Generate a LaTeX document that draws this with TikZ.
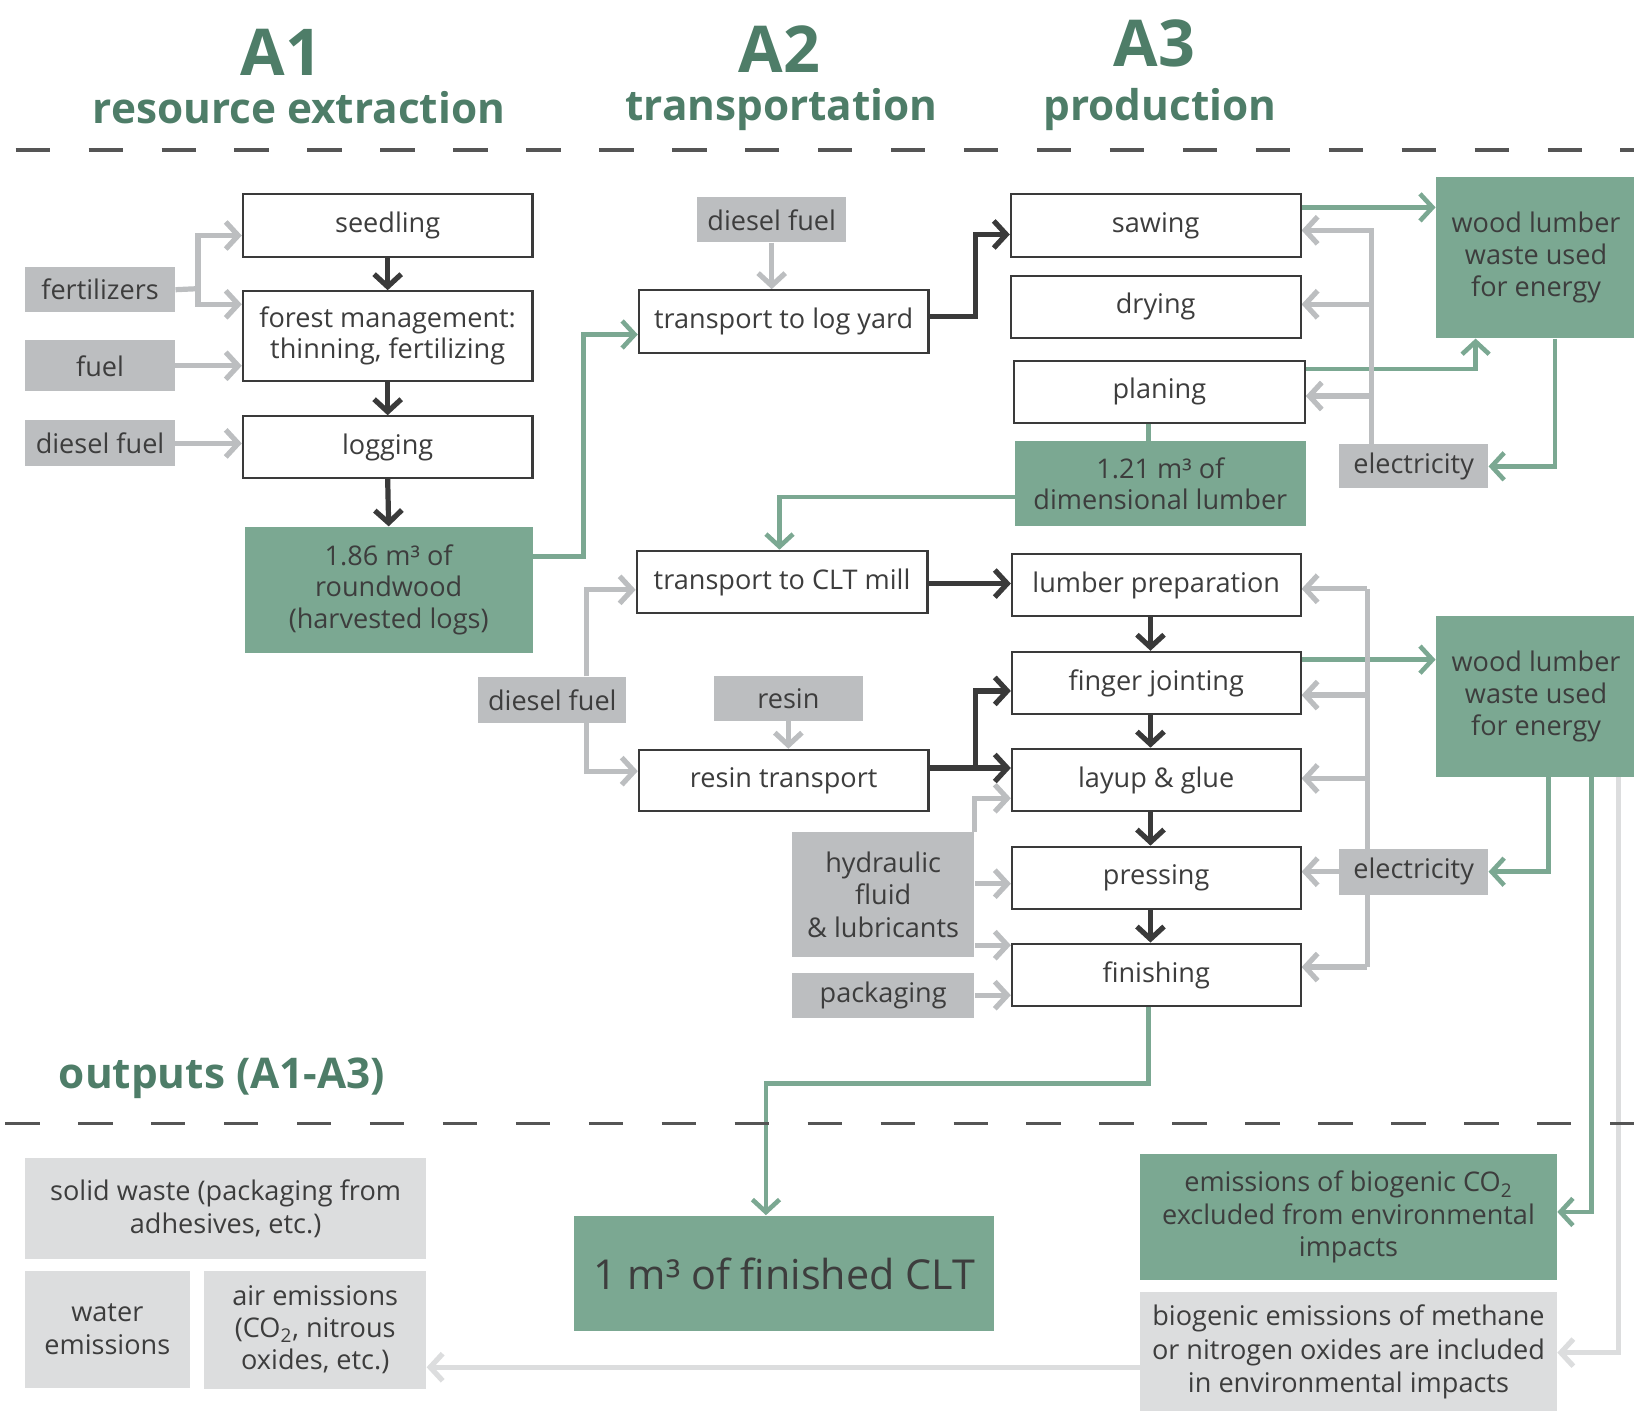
\documentclass[tikz,border=0pt]{standalone}
\usepackage{fontspec}
\setmainfont{Open Sans}
\usetikzlibrary{arrows.meta}
\definecolor{hdrgreen}{HTML}{4E7D68}
\definecolor{boxgreen}{HTML}{7BA892}
\definecolor{boxgray}{HTML}{BCBEC0}
\definecolor{lightbox}{HTML}{DCDDDE}
\definecolor{dkline}{HTML}{3A3A3A}
\definecolor{txt}{HTML}{3D3D3D}
\definecolor{dashcol}{HTML}{555555}
\pgfdeclarelayer{background}
\pgfsetlayers{background,main}
\newcommand\bx{\fontsize{13}{15}\selectfont}
\newcommand\bxw{\fontsize{13}{15.5}\selectfont}
% style, name, x1, y1, x2, y2, text
\newcommand\bnode[7]{%
  \pgfmathsetmacro\bnw{(#5-#3)*0.5}%
  \pgfmathsetmacro\bnh{(#6-#4)*0.5}%
  \node[#1, minimum width=\bnw pt, minimum height=\bnh pt] (#2) at ({(#3+#5)/2},{(#4+#6)/2+1.5}) {#7};}
\begin{document}
\begin{tikzpicture}[x=0.5pt,y=-0.5pt,
  proc/.style={draw=dkline, line width=1pt, fill=white, inner sep=0pt, text=txt, font=\bx, align=center},
  ginp/.style={fill=boxgray, inner sep=0pt, text=txt, font=\bx, align=center},
  gbox/.style={fill=boxgreen, inner sep=0pt, text=txt, font=\bx, align=center},
  lbox/.style={fill=lightbox, inner sep=0pt, text=txt, font=\bx, align=center},
  hdrbig/.style={text=hdrgreen, font=\fontsize{31}{31}\selectfont\bfseries},
  hdrsub/.style={text=hdrgreen, font=\fontsize{20.3}{20.3}\selectfont\bfseries},
  tipbarb/.tip={Straight Barb[length=6pt,width=13pt]},
  garr/.style={draw=boxgray, line width=2.5pt, -tipbarb},
  gline/.style={draw=boxgray, line width=2.5pt},
  larr/.style={draw=lightbox, line width=2.5pt, -tipbarb},
  darr/.style={draw=dkline, line width=2.5pt, -tipbarb},
  grarr/.style={draw=boxgreen, line width=2.2pt, -tipbarb},
  grline/.style={draw=boxgreen, line width=2.2pt},
  dashline/.style={draw=dashcol, line width=1.5pt, dash pattern=on 16.5pt off 18.5pt}
]
\useasboundingbox (0,0) rectangle (1568,1354);

% headers
\node[hdrbig] (ha1) at (270,50) {A1};
\node[hdrsub] (hs1) at (287,103) {resource extraction};
\node[hdrbig] (ha2) at (748,47) {A2};
\node[hdrsub] (hs2) at (750,105) {transportation};
\node[hdrbig] (ha3) at (1108,42) {A3};
\node[hdrsub] (hs3) at (1113,105) {production};
\node[hdrsub] (hout) at (213,1035) {outputs (A1-A3)};
\draw[dashline] (15,144) -- (1568,144);
\draw[dashline] (5,1078) -- (1568,1078);

% A1
\bnode{proc}{seed}{233}{185}{511}{245}{seedling}
\bnode{proc}{forest}{233}{278}{511}{364}{forest management:\\thinning, fertilizing}
\bnode{proc}{log}{233}{398}{511}{457}{logging}
\bnode{gbox}{round}{235}{504}{511}{625}{1.86 m³ of\\roundwood\\(harvested logs)}
\bnode{ginp}{fert}{24}{255}{168}{298}{fertilizers}
\bnode{ginp}{fuel}{24}{325}{168}{374}{fuel}
\bnode{ginp}{dies1}{24}{402}{168}{446}{diesel fuel}

% A2
\bnode{ginp}{dies2}{669}{188}{812}{231}{diesel fuel}
\bnode{proc}{ly}{613}{277}{891}{337}{transport to log yard}
\bnode{proc}{clt}{611}{527}{890}{587}{transport to CLT mill}
\bnode{ginp}{dies3}{459}{648}{601}{692}{diesel fuel}
\bnode{ginp}{resin}{685}{647}{828}{690}{resin}
\bnode{proc}{rt}{613}{718}{891}{777}{resin transport}

% A3 upper
\bnode{proc}{saw}{970}{185}{1248}{245}{sawing}
\bnode{proc}{dry}{970}{263}{1248}{323}{drying}
\bnode{proc}{plan}{973}{345}{1252}{404}{planing}
\bnode{gbox}{lum}{974}{422}{1253}{503}{1.21 m³ of\\dimensional lumber}
\bnode{gbox,font=\bxw}{waste1}{1378}{168}{1570}{323}{wood lumber\\waste used\\for energy}
\bnode{ginp}{elec1}{1285}{425}{1428}{467}{electricity}

% A3 lower
\bnode{proc}{prep}{971}{530}{1248}{590}{lumber preparation}
\bnode{proc}{fj}{971}{624}{1248}{684}{finger jointing}
\bnode{proc}{lay}{971}{717}{1248}{777}{layup \& glue}
\bnode{proc}{press}{971}{811}{1248}{871}{pressing}
\bnode{proc}{fin}{971}{904}{1248}{964}{finishing}
\bnode{gbox,font=\bxw}{waste2}{1378}{590}{1570}{744}{wood lumber\\waste used\\for energy}
\bnode{ginp}{elec2}{1285}{813}{1428}{857}{electricity}
\bnode{ginp,font=\bxw}{hyd}{760}{797}{935}{917}{hydraulic\\fluid\\\& lubricants}
\bnode{ginp}{pack}{760}{932}{935}{975}{packaging}

% outputs
\bnode{gbox,font=\fontsize{19.8}{20}\selectfont}{clt1}{551}{1165}{954}{1276}{1 m³ of finished CLT}
\bnode{lbox,font=\fontsize{13}{16}\selectfont}{solid}{24}{1110}{409}{1207}{solid waste (packaging from\\adhesives, etc.)}
\bnode{lbox,font=\fontsize{13}{16}\selectfont}{water}{24}{1218}{182}{1330}{water\\emissions}
\bnode{lbox,font=\fontsize{13}{15.5}\selectfont}{air}{196}{1218}{409}{1331}{air emissions\\(CO\textsubscript{2}, nitrous\\oxides, etc.)}
\bnode{gbox,font=\fontsize{13}{15.5}\selectfont}{co2}{1094}{1106}{1494}{1227}{emissions of biogenic CO\textsubscript{2}\\excluded from environmental\\impacts}
\bnode{lbox,font=\fontsize{13}{16}\selectfont}{meth}{1094}{1238}{1494}{1354}{biogenic emissions of methane\\or nitrogen oxides are included\\in environmental impacts}

\begin{pgfonlayer}{background}
% A1 connectors
\coordinate (fjn) at (190,277);
\draw[gline] (fert.east) -- (fjn);
\draw[garr] (fjn) |- (seed.west |- 0,226);
\draw[garr] (fjn) |- (forest.west |- 0,292);
\draw[garr] (fuel.east) -- (forest.west |- fuel.east);
\draw[garr] (dies1.east) -- (log.west |- dies1.east);
\draw[darr] (seed.south) -- (forest.north);
\draw[darr] (forest.south) -- (log.north);
\draw[darr] (log.south) -- (round.north);
\draw[grarr] (round.east |- 0,534) -| (560,321) -- (ly.west |- 0,321);

% A2 connectors
\draw[garr] (dies2.south) -- (ly.north -| dies2.south);
\draw[darr] (ly.east |- 0,304) -| (936,225) -- (saw.west |- 0,225);
\draw[grarr] (lum.west |- 0,477) -| (clt.north -| 748,0);
\draw[darr] (clt.east |- 0,560) -- (prep.west |- 0,560);
\draw[garr] (dies3.north -| 563,0) |- (clt.west |- 0,566);
\draw[garr] (dies3.south -| 563,0) |- (rt.west |- 0,740);
\draw[garr] (resin.south) -- (rt.north -| resin.south);
\coordinate (rtj) at (936,737);
\draw[darr] (rt.east |- rtj) -- (lay.west |- rtj);
\draw[darr] (rtj) |- (fj.west |- 0,663);

% A3 upper connectors
\draw[grline] (plan.south -| 1102,0) -- (lum.north -| 1102,0);
\draw[grarr] (saw.east |- 0,199) -- (waste1.west |- 0,199);
\draw[grarr] (plan.east |- 0,354) -| (waste1.south -| 1416,0);
\draw[grarr] (waste1.south -| 1492,0) |- (elec1.east);
\draw[garr] (elec1.north -| 1316,0) |- (saw.east |- 0,221);
\coordinate (e1b) at (1316,292);
\coordinate (e1c) at (1316,380);
\draw[garr] (e1b) -- (dry.east |- e1b);
\draw[garr] (e1c) -- (plan.east |- e1c);

% A3 lower connectors
\draw[darr] (prep.south -| 1104,0) -- (fj.north -| 1104,0);
\draw[darr] (fj.south -| 1104,0) -- (lay.north -| 1104,0);
\draw[darr] (lay.south -| 1104,0) -- (press.north -| 1104,0);
\draw[darr] (press.south -| 1104,0) -- (fin.north -| 1104,0);
\draw[grarr] (fj.east |- 0,633) -- (waste2.west |- 0,633);
\draw[grarr] (waste2.south -| 1486,0) |- (elec2.east);
\coordinate (e2top) at (1312,565);
\coordinate (e2b) at (1312,667);
\coordinate (e2c) at (1312,747);
\coordinate (e2bot) at (1312,928);
\draw[gline] (e2top) -- (e2bot);
\draw[garr] (e2top) -- (prep.east |- e2top);
\draw[garr] (e2b) -- (fj.east |- e2b);
\draw[garr] (e2c) -- (lay.east |- e2c);
\draw[garr] (elec2.west) -- (press.east |- elec2.west);
\draw[garr] (e2bot) -- (fin.east |- e2bot);
\draw[garr] (hyd.north east) |- (lay.west |- 0,766);
\draw[garr] (hyd.east |- 0,848) -- (press.west |- 0,848);
\draw[garr] (hyd.east |- 0,907) -- (fin.west |- 0,907);
\draw[garr] (pack.east) -- (fin.west |- pack.east);

% outputs connectors
\draw[grarr] (fin.south -| 1102,0) -- ++(0,73) -| (clt1.north -| 735,0);
\draw[grarr] (waste2.south -| 1527,0) |- (co2.east |- 0,1163);
\draw[larr] (waste2.south -| 1553,0) |- (meth.east |- 0,1298);
\draw[larr] (meth.west |- 0,1312) -- (air.east |- 0,1312);
\end{pgfonlayer}
\end{tikzpicture}
\end{document}
